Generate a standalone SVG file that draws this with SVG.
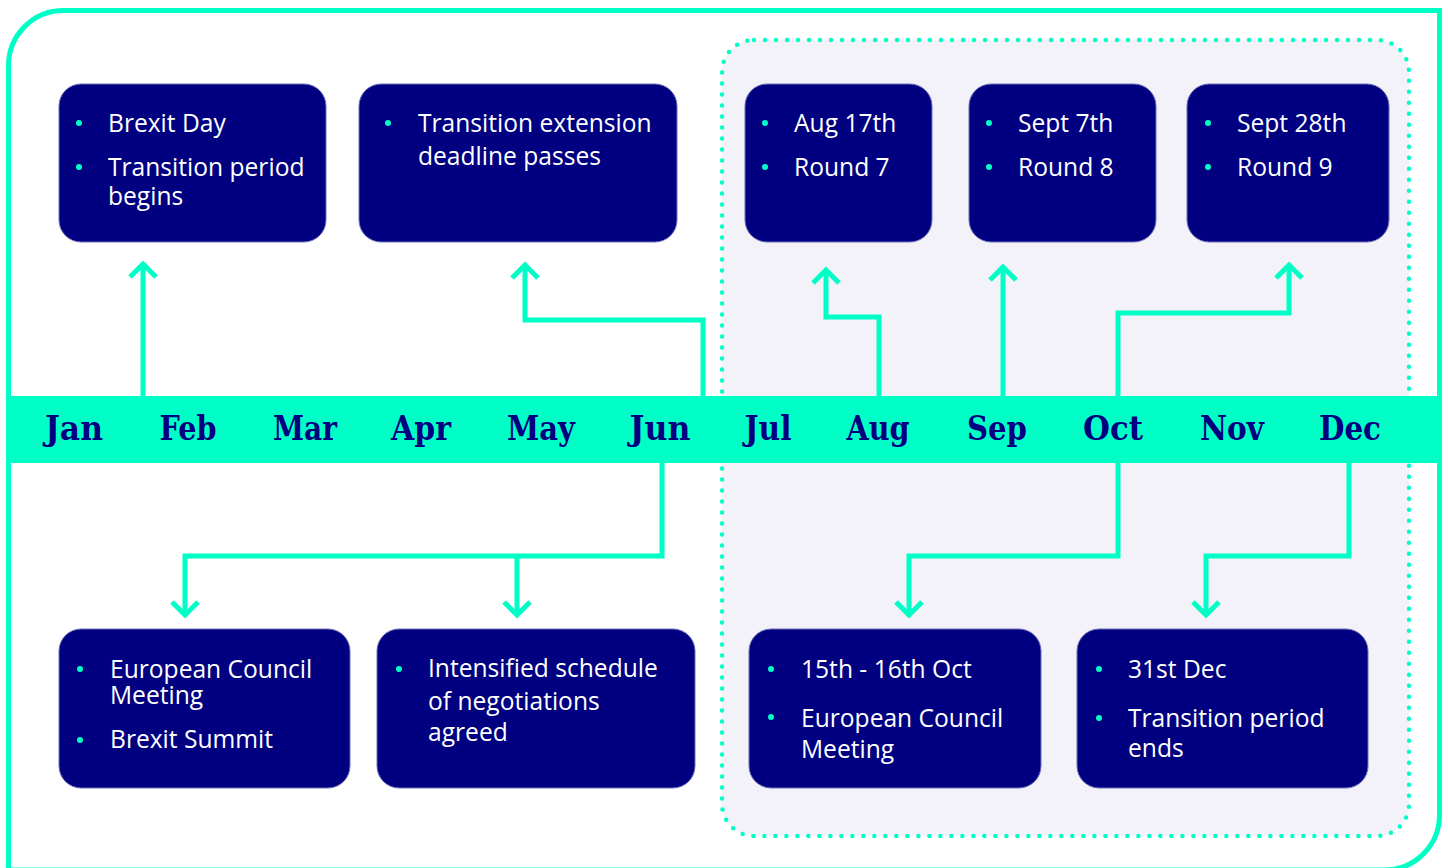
<svg xmlns="http://www.w3.org/2000/svg" width="1448" height="868" viewBox="0 0 1448 868">
<style>
.node{fill:#000080;stroke:#6f6fb8;stroke-width:1}
.txt{font-family:"Open Sans","Noto Sans","Liberation Sans",sans-serif;font-size:24.6px;fill:#ffffff}
.dot{fill:#00ffc6}
.month{font-family:"DejaVu Serif","Liberation Serif",serif;font-weight:bold;font-size:33px;fill:#000080;text-anchor:middle}
.conn{fill:none;stroke:#00ffc6;stroke-width:5;stroke-linejoin:miter}
.arr{marker-end:url(#chev)}
</style>
<defs>
<marker id="chev" markerUnits="userSpaceOnUse" viewBox="-20 -20 40 40" markerWidth="40" markerHeight="40" refX="0" refY="0" orient="auto">
<path d="M -13 -13 L 0 0 L -13 13" fill="none" stroke="#00ffc6" stroke-width="5"/>
</marker>
</defs>
<rect x="0" y="0" width="1448" height="868" fill="#ffffff"/>
<path id="frame" d="M 8.5 870 V 65.5 A 55 55 0 0 1 63.5 10.5 H 1439.5 V 815 A 55 55 0 0 1 1384.5 870 Z" fill="none" stroke="#00ffc6" stroke-width="5"/>
<rect id="region" x="722" y="40" width="687" height="796" rx="32" ry="32" fill="#f2f2f8" stroke="#00ffc6" stroke-width="4.5" stroke-dasharray="0 11" stroke-linecap="round"/>
<g id="connectors">
<path class="conn arr" d="M 143 396 V 264"/>
<path class="conn arr" d="M 703 396 V 320 H 525 V 265"/>
<path class="conn arr" d="M 879 396 V 317 H 826 V 270"/>
<path class="conn arr" d="M 1003 396 V 267"/>
<path class="conn arr" d="M 1118 396 V 313 H 1289 V 265"/>
<path class="conn arr" d="M 662 463 V 556 H 185 V 615"/>
<path class="conn arr" d="M 517 556 V 615"/>
<path class="conn arr" d="M 1118 463 V 556 H 909 V 615"/>
<path class="conn arr" d="M 1349 463 V 556 H 1206 V 615"/>
</g>
<g id="timeline">
<rect x="8" y="396" width="1432" height="67" fill="#00ffc6"/>
<text class="month" x="74" y="440" textLength="58" lengthAdjust="spacingAndGlyphs">Jan</text>
<text class="month" x="188" y="440" textLength="57" lengthAdjust="spacingAndGlyphs">Feb</text>
<text class="month" x="305" y="440" textLength="64" lengthAdjust="spacingAndGlyphs">Mar</text>
<text class="month" x="421" y="440" textLength="60" lengthAdjust="spacingAndGlyphs">Apr</text>
<text class="month" x="541" y="440" textLength="68" lengthAdjust="spacingAndGlyphs">May</text>
<text class="month" x="660" y="440" textLength="61" lengthAdjust="spacingAndGlyphs">Jun</text>
<text class="month" x="768" y="440" textLength="47" lengthAdjust="spacingAndGlyphs">Jul</text>
<text class="month" x="878" y="440" textLength="63" lengthAdjust="spacingAndGlyphs">Aug</text>
<text class="month" x="997" y="440" textLength="60" lengthAdjust="spacingAndGlyphs">Sep</text>
<text class="month" x="1113" y="440" textLength="60" lengthAdjust="spacingAndGlyphs">Oct</text>
<text class="month" x="1232" y="440" textLength="64" lengthAdjust="spacingAndGlyphs">Nov</text>
<text class="month" x="1350" y="440" textLength="62" lengthAdjust="spacingAndGlyphs">Dec</text>
</g>
<g id="n-brexit-day">
<rect class="node" x="59" y="84" width="267" height="158" rx="22"/>
<circle class="dot" cx="79" cy="123" r="3"/>
<circle class="dot" cx="79" cy="167" r="3"/>
<text class="txt" x="108" y="132">Brexit Day</text>
<text class="txt" x="108" y="176">Transition period</text>
<text class="txt" x="108" y="205">begins</text>
</g>
<g id="n-extension">
<rect class="node" x="359" y="84" width="318" height="158" rx="22"/>
<circle class="dot" cx="388" cy="123" r="3"/>
<text class="txt" x="418" y="132">Transition extension</text>
<text class="txt" x="418" y="165">deadline passes</text>
</g>
<g id="n-round7">
<rect class="node" x="745" y="84" width="187" height="158" rx="22"/>
<circle class="dot" cx="765" cy="123" r="3"/>
<circle class="dot" cx="765" cy="167" r="3"/>
<text class="txt" x="794" y="132">Aug 17th</text>
<text class="txt" x="794" y="176">Round 7</text>
</g>
<g id="n-round8">
<rect class="node" x="969" y="84" width="187" height="158" rx="22"/>
<circle class="dot" cx="989" cy="123" r="3"/>
<circle class="dot" cx="989" cy="167" r="3"/>
<text class="txt" x="1018" y="132">Sept 7th</text>
<text class="txt" x="1018" y="176">Round 8</text>
</g>
<g id="n-round9">
<rect class="node" x="1187" y="84" width="202" height="158" rx="22"/>
<circle class="dot" cx="1208" cy="123" r="3"/>
<circle class="dot" cx="1208" cy="167" r="3"/>
<text class="txt" x="1237" y="132">Sept 28th</text>
<text class="txt" x="1237" y="176">Round 9</text>
</g>
<g id="n-council-june">
<rect class="node" x="59" y="629" width="291" height="159" rx="22"/>
<circle class="dot" cx="80" cy="669" r="3"/>
<circle class="dot" cx="80" cy="740" r="3"/>
<text class="txt" x="110" y="678">European Council</text>
<text class="txt" x="110" y="704">Meeting</text>
<text class="txt" x="110" y="748">Brexit Summit</text>
</g>
<g id="n-intensified">
<rect class="node" x="377" y="629" width="318" height="159" rx="22"/>
<circle class="dot" cx="399" cy="669" r="3"/>
<text class="txt" x="428" y="677">Intensified schedule</text>
<text class="txt" x="428" y="710">of negotiations</text>
<text class="txt" x="428" y="741">agreed</text>
</g>
<g id="n-council-oct">
<rect class="node" x="749" y="629" width="292" height="159" rx="22"/>
<circle class="dot" cx="771" cy="669" r="3"/>
<circle class="dot" cx="771" cy="717" r="3"/>
<text class="txt" x="801" y="678">15th - 16th Oct</text>
<text class="txt" x="801" y="727">European Council</text>
<text class="txt" x="801" y="758">Meeting</text>
</g>
<g id="n-transition-ends">
<rect class="node" x="1077" y="629" width="291" height="159" rx="22"/>
<circle class="dot" cx="1099" cy="669" r="3"/>
<circle class="dot" cx="1099" cy="718" r="3"/>
<text class="txt" x="1128" y="678">31st Dec</text>
<text class="txt" x="1128" y="727">Transition period</text>
<text class="txt" x="1128" y="757">ends</text>
</g>
</svg>
